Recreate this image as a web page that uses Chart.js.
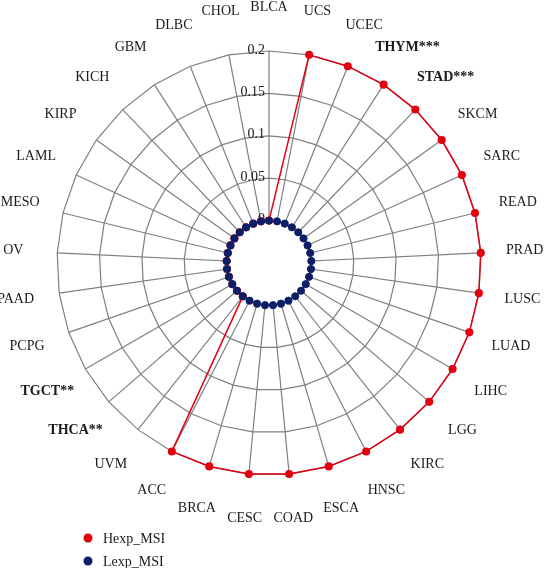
<!DOCTYPE html>
<html>
<head>
<meta charset="utf-8">
<script src="https://cdn.jsdelivr.net/npm/chart.js@4.4.0/dist/chart.umd.min.js"></script>
<style>
  html, body { margin: 0; padding: 0; background: #fff; }
  #wrap { width: 547px; height: 568px; position: relative; }
</style>
</head>
<body>
<div id="wrap"><canvas id="msi-chart"></canvas></div>
<script>
const cancers = ['BLCA', 'UCS', 'UCEC', 'THYM***', 'STAD***', 'SKCM', 'SARC', 'READ', 'PRAD', 'LUSC', 'LUAD',
  'LIHC', 'LGG', 'KIRC', 'HNSC', 'ESCA', 'COAD', 'CESC', 'BRCA', 'ACC', 'UVM', 'THCA**', 'TGCT**',
  'PCPG', 'PAAD', 'OV', 'MESO', 'LAML', 'KIRP', 'KICH', 'GBM', 'DLBC', 'CHOL'];
const hexp_msi = [0, 0.2, 0.2, 0.2, 0.2, 0.2, 0.2, 0.2, 0.2, 0.2, 0.2,
  0.2, 0.2, 0.2, 0.2, 0.2, 0.2, 0.2, 0.2, 0.2, 0, 0, 0,
  0, 0, 0, 0, 0, 0, 0, 0, 0, 0];
const lexp_msi = [0, 0, 0, 0, 0, 0, 0, 0, 0, 0, 0,
  0, 0, 0, 0, 0, 0, 0, 0, 0, 0, 0, 0,
  0, 0, 0, 0, 0, 0, 0, 0, 0, 0];
const tickValues = [0, 0.05, 0.1, 0.15, 0.2];
const tickLabels = ['0', '0.05', '0.1', '0.15', '0.2'];
const boldLabels = ['THYM***', 'STAD***', 'TGCT**', 'THCA**'];

const RED = '#e2000f';
const NAVY = '#0c1f66';
const GRID = '#7f7f7f';
const SERIF = '"Liberation Serif", "DejaVu Serif", serif';

// 中心留白、刻度文字、外圈標籤、圖例
const radarDecor = {
  id: 'radarDecor',
  beforeDatasetsDraw(chart) {
    const r = chart.scales.r;
    const ctx = chart.ctx;
    const r0 = r.getDistanceFromCenterForValue(0);
    ctx.save();
    ctx.beginPath();
    ctx.arc(r.xCenter, r.yCenter, r0 - 1, 0, Math.PI * 2);
    ctx.fillStyle = '#fff';
    ctx.fill();

    ctx.font = '14px ' + SERIF;
    ctx.fillStyle = '#1a1a1a';
    ctx.textAlign = 'right';
    ctx.textBaseline = 'middle';
    tickValues.forEach((v, i) => {
      const d = r.getDistanceFromCenterForValue(v);
      ctx.fillText(tickLabels[i], r.xCenter - 4, r.yCenter - d - 1);
    });
    ctx.restore();
  },
  afterDraw(chart) {
    const r = chart.scales.r;
    const ctx = chart.ctx;
    ctx.save();
    ctx.fillStyle = '#1a1a1a';
    ctx.textAlign = 'center';
    ctx.textBaseline = 'middle';
    chart.data.labels.forEach((lab, i) => {
      const p = r.getPointPosition(i, r.drawingArea + 44);
      ctx.font = (boldLabels.includes(lab) ? 'bold ' : '') + '14px ' + SERIF;
      ctx.fillText(lab, p.x, p.y);
    });

    // 圖例
    ctx.textAlign = 'left';
    ctx.font = '14px ' + SERIF;
    chart.data.datasets.forEach((ds, i) => {
      const y = 538 + i * 23;
      ctx.beginPath();
      ctx.arc(88, y, 4.5, 0, Math.PI * 2);
      ctx.fillStyle = ds.pointBackgroundColor;
      ctx.fill();
      ctx.fillStyle = '#1a1a1a';
      ctx.fillText(ds.label, 103, y + 1);
    });
    ctx.restore();
  }
};

const chart = new Chart(document.getElementById('msi-chart').getContext('2d'), {
  type: 'radar',
  data: {
    labels: cancers,
    datasets: [
      {
        label: 'Hexp_MSI',
        data: hexp_msi,
        borderColor: RED,
        backgroundColor: RED,
        pointBackgroundColor: RED,
        pointBorderColor: RED,
        borderWidth: 1.5,
        pointRadius: 3.3,
        fill: false,
        order: 2
      },
      {
        label: 'Lexp_MSI',
        data: lexp_msi,
        borderColor: NAVY,
        backgroundColor: NAVY,
        pointBackgroundColor: NAVY,
        pointBorderColor: NAVY,
        borderWidth: 1,
        pointRadius: 3.6,
        fill: false,
        order: 1
      }
    ]
  },
  options: {
    responsive: true,
    maintainAspectRatio: false,
    animation: false,
    layout: { padding: { left: 57, right: 66, top: 51, bottom: 93 } },
    plugins: {
      legend: { display: false },
      tooltip: { enabled: false }
    },
    scales: {
      r: {
        min: -0.05,
        max: 0.2,
        ticks: { display: false, stepSize: 0.05 },
        pointLabels: { display: false },
        grid: { color: GRID, lineWidth: 1.2 },
        angleLines: { color: GRID, lineWidth: 1.2 }
      }
    }
  },
  plugins: [radarDecor]
});
</script>
</body>
</html>
